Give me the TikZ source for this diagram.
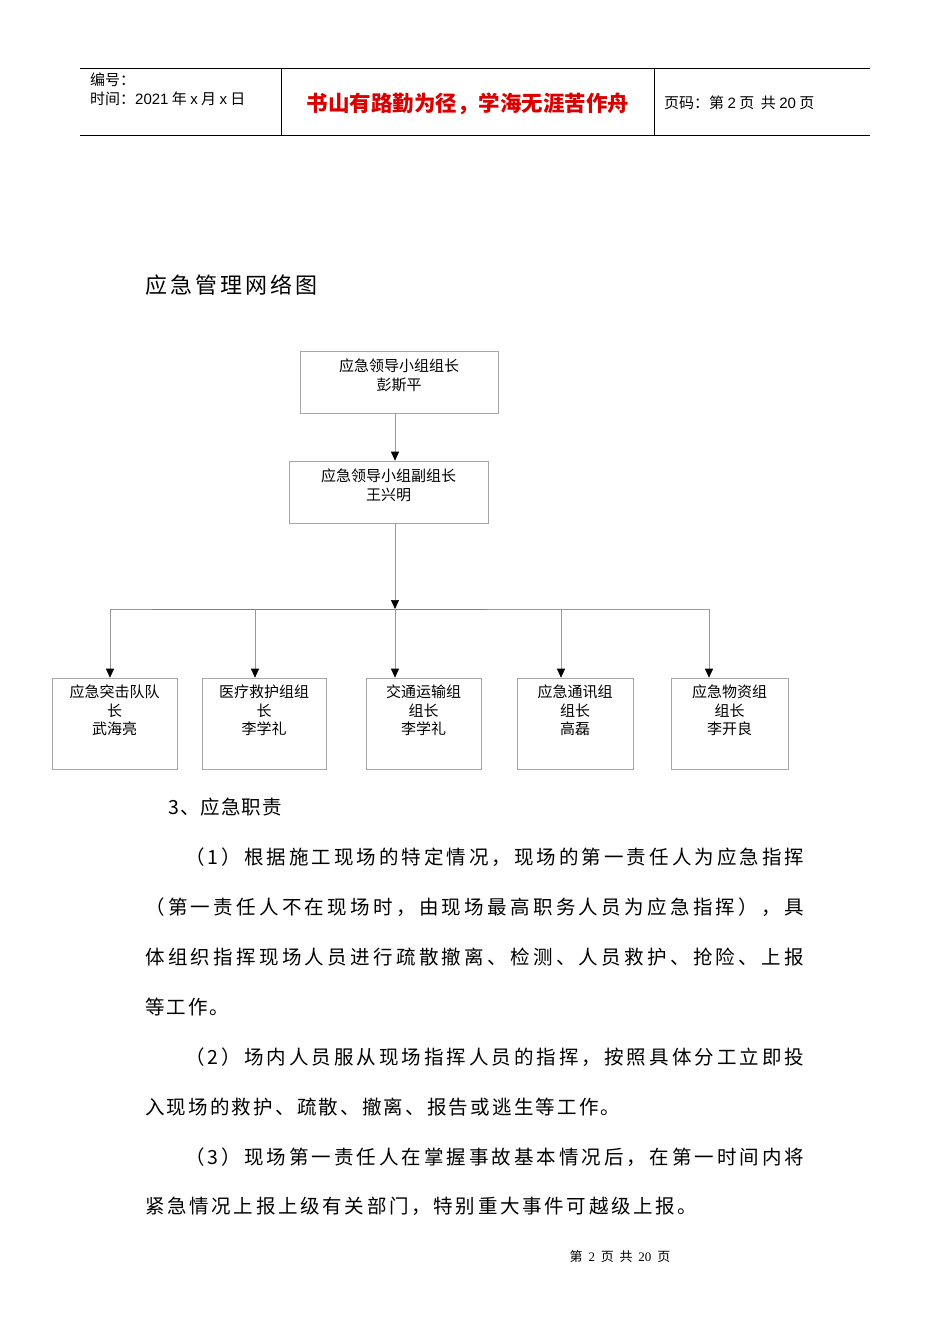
\documentclass[tikz,border=0pt]{standalone}
\usepackage{fontspec}
\setmainfont{Liberation Sans}
\newfontfamily\cjk{Noto Sans CJK SC}
\usetikzlibrary{arrows.meta}
\def\gapskip{\hfil}
\def\spc#1{\ifx#1\relax\else#1\gapskip\expandafter\spc\fi}
\newcommand\jl[2]{\hbox to #1{\spc#2\relax}}
\newcommand\nl[2]{\hbox{\def\gapskip{\hskip#1}\spc#2\relax}}
\tikzset{box/.style={draw=gray!70,line width=0.6pt,inner sep=0pt},
 boxtxt/.style={anchor=north,align=center,font=\cjk\fontsize{15}{18.5}\selectfont,inner sep=0pt},
 conn/.style={draw=gray!80,line width=0.6pt},
 arr/.style={conn,-{Triangle[length=9pt,width=8pt,fill=black,color=black]}},
 body/.style={anchor=base west,inner sep=0pt,font=\cjk\fontsize{19.5}{20}\selectfont}}
\begin{document}
\begin{tikzpicture}[x=1pt,y=-1pt]
\useasboundingbox[fill=white] (0,0) rectangle (950,1344);
% header
\draw[line width=0.7pt] (80,68) -- (870,68) (80,135) -- (870,135) (281,68) -- (281,135) (654,68) -- (654,135);
\node[anchor=base west,inner sep=0pt,font=\cjk\fontsize{15}{16}\selectfont] (h1) at (90,85) {编号：};
\node[anchor=base west,inner sep=0pt,font=\cjk\fontsize{15}{16}\selectfont] (h2) at (90,104) {时间：{\fontspec{Liberation Sans}2021} 年 {\fontspec{Liberation Sans}x} 月 {\fontspec{Liberation Sans}x} 日};
\node[anchor=base,inner sep=0pt,text=red!85!black,font=\cjk\bfseries\fontsize{21.5}{24}\selectfont] (h3) at (468,111) {书山有路勤为径，学海无涯苦作舟};
\node[anchor=base west,inner sep=0pt,font=\cjk\fontsize{15}{16}\selectfont] (h4) at (664,108) {页码：第 {\fontspec{Liberation Sans}2} 页\ \ 共 {\fontspec{Liberation Sans}20} 页};
% title
\node[anchor=base west,inner sep=0pt,font=\cjk\fontsize{22}{24}\selectfont] (title) at (145,293) {\nl{3pt}{应急管理网络图}};
% chart
\node[box,minimum width=198pt,minimum height=62pt] (top) at (399,382) {};
\node[boxtxt] (topt) at ([yshift=-8pt]top.north) {应急领导小组组长\\彭斯平};
\node[box,minimum width=199pt,minimum height=62pt] (sub) at (388.5,492) {};
\node[boxtxt] (subt) at ([yshift=-8pt]sub.north) {应急领导小组副组长\\王兴明};
\draw[arr] (top.south -| 395,0) -- (sub.north -| 395,0);
\coordinate (j) at (395,609);
\draw[arr] (sub.south -| j) -- (j);
\coordinate (bl) at (110,609); \coordinate (br) at (709,609);
\draw[conn] (bl) -- (br);
\draw[gray,line width=0.8pt] (152,609) -- (487,609);
\foreach \n/\x/\l/\r/\t in {1/110/52/177/{应急突击队队\\长\\武海亮},2/255/202/326/{医疗救护组组\\长\\李学礼},3/395/366/481/{交通运输组\\组长\\李学礼},4/561/517/633/{应急通讯组\\组长\\高磊},5/709/671/788/{应急物资组\\组长\\李开良}}{
 \node[box,minimum width=\r-\l,minimum height=91pt] (b\n) at ({(\l+\r)/2},723.5) {};
 \node[boxtxt] (bt\n) at ([yshift=-7pt]b\n.north) {\t};
 \coordinate (d\n) at (\x,609);
 \draw[arr] (d\n) -- (d\n |- b\n.north);
}
% body text
\node[body] (s3) at (168,814) {\nl{1pt}{3、应急职责}};
\node[body] (p1) at (185,864) {\jl{622pt}{（1）根据施工现场的特定情况，现场的第一责任人为应急指挥}};
\node[body] (p2) at (145,914) {\jl{662pt}{（第一责任人不在现场时，由现场最高职务人员为应急指挥），具}};
\node[body] (p3) at (145,964) {\jl{662pt}{体组织指挥现场人员进行疏散撤离、检测、人员救护、抢险、上报}};
\node[body] (p4) at (145,1014) {\nl{2pt}{等工作。}};
\node[body] (p5) at (185,1064) {\jl{622pt}{（2）场内人员服从现场指挥人员的指挥，按照具体分工立即投}};
\node[body] (p6) at (145,1114) {\nl{2.2pt}{入现场的救护、疏散、撤离、报告或逃生等工作。}};
\node[body] (p7) at (185,1164) {\jl{622pt}{（3）现场第一责任人在掌握事故基本情况后，在第一时间内将}};
\node[body] (p8) at (145,1213) {\nl{2.7pt}{紧急情况上报上级有关部门，特别重大事件可越级上报。}};
\node[anchor=base,inner sep=0pt,font=\cjk\fontsize{13}{15}\selectfont] (foot) at (620,1261) {第\ \ {\fontspec{Liberation Serif}2}\ \ 页\ \ 共\ \ {\fontspec{Liberation Serif}20}\ \ 页};
\end{tikzpicture}
\end{document}
